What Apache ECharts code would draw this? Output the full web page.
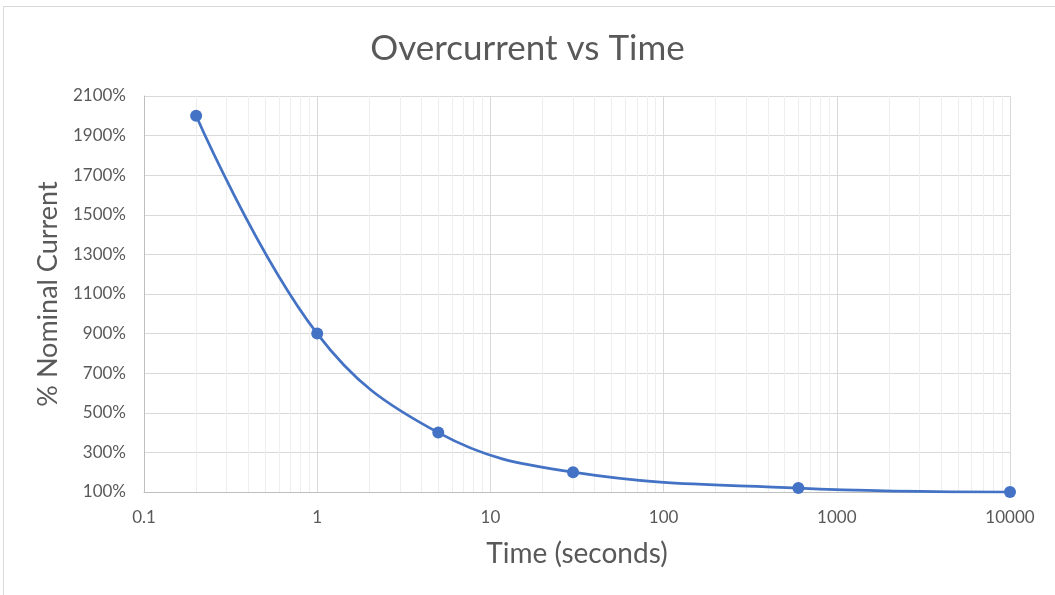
<!DOCTYPE html>
<html>
<head>
<meta charset="utf-8">
<script src="https://cdn.jsdelivr.net/npm/echarts@6/dist/echarts.min.js"></script>
<style>html,body{margin:0;padding:0;background:#fff;}#chart{width:1055px;height:595px;}</style>
</head>
<body>
<div id="chart"></div>
<script>
const timeSeconds = [0.2, 1, 5, 30, 600, 10000];
const nominalCurrentPct = [2000, 900, 400, 200, 120, 100];
const titleText = 'Overcurrent vs Time';
const xAxisName = 'Time (seconds)';
const yAxisName = '% Nominal Current';
const decadeStarts = [0.1, 1, 10, 100, 1000];
const minorMultipliers = [2, 3, 4, 5, 6, 7, 8, 9];

const minorGrid = [];
decadeStarts.forEach(d => minorMultipliers.forEach(m => minorGrid.push({ xAxis: +(d * m).toPrecision(6) })));

const FONT = 'Lato';
const TXT = '#595959';
const chart = echarts.init(document.getElementById('chart'), null, { renderer: 'canvas' });
chart.setOption({
  backgroundColor: '#fff',
  animation: false,
  textStyle: { fontFamily: FONT },
  title: {
    text: titleText, left: 'center', top: 26,
    textStyle: { fontFamily: FONT, fontSize: 35, fontWeight: 'normal', color: TXT }
  },
  graphic: [
    { type: 'line', shape: { x1: 3.5, y1: 6, x2: 3.5, y2: 595 }, style: { stroke: '#d9d9d9', lineWidth: 1 } },
    { type: 'line', shape: { x1: 3, y1: 6.5, x2: 1055, y2: 6.5 }, style: { stroke: '#d9d9d9', lineWidth: 1 } }
  ],
  grid: { left: 144, right: 45, top: 96, bottom: 103, containLabel: false },
  xAxis: {
    type: 'log', logBase: 10, min: 0.1, max: 10000,
    name: xAxisName, nameLocation: 'middle', nameGap: 48,
    nameTextStyle: { fontFamily: FONT, fontSize: 28, color: TXT },
    axisLine: { show: true, lineStyle: { color: '#bfbfbf', width: 1 } },
    axisTick: { show: false },
    axisLabel: { color: TXT, fontSize: 17, fontFamily: FONT, margin: 17,
      formatter: v => String(+v.toPrecision(6)) },
    splitLine: { show: true, lineStyle: { color: '#d9d9d9', width: 1 } }
  },
  yAxis: {
    type: 'value', min: 100, max: 2100, interval: 200,
    name: yAxisName, nameLocation: 'middle', nameGap: 79,
    nameTextStyle: { fontFamily: FONT, fontSize: 27, color: TXT },
    axisLine: { show: true, lineStyle: { color: '#bfbfbf', width: 1 } },
    axisTick: { show: false },
    axisLabel: { color: TXT, fontSize: 17, fontFamily: FONT, margin: 18, formatter: v => v + '%' },
    splitLine: { show: true, lineStyle: { color: '#d9d9d9', width: 1 } }
  },
  series: [{
    type: 'line',
    data: timeSeconds.map((t, i) => [t, nominalCurrentPct[i]]),
    smooth: 0.4,
    symbol: 'circle', symbolSize: 12,
    itemStyle: { color: '#4472C4' },
    lineStyle: { color: '#4472C4', width: 2.75 },
    z: 5,
    markLine: {
      silent: true, symbol: 'none', label: { show: false },
      lineStyle: { color: '#eeeeee', width: 1, type: 'solid' },
      z: 1,
      data: minorGrid
    }
  }]
});
</script>
</body>
</html>
